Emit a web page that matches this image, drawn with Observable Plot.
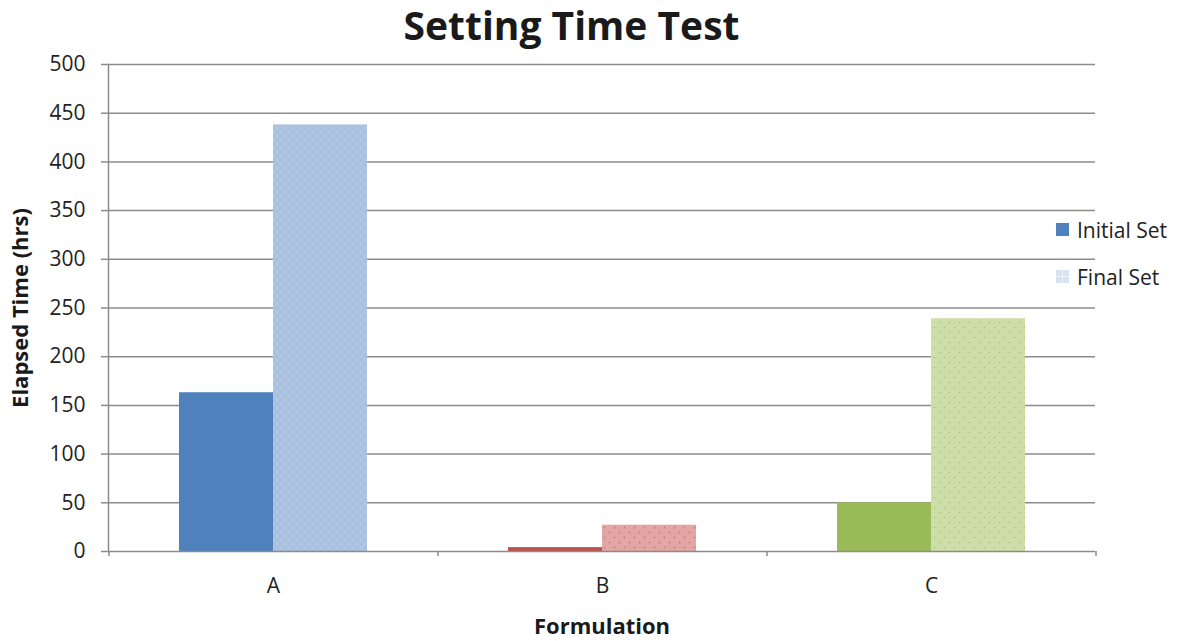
<!DOCTYPE html>
<html>
<head>
<meta charset="utf-8">
<script src="https://cdn.jsdelivr.net/npm/d3@7"></script>
<script src="https://cdn.jsdelivr.net/npm/@observablehq/plot@0.6"></script>
<style>
  html, body { margin: 0; padding: 0; background: #fff; }
  body { width: 1193px; height: 641px; position: relative; overflow: hidden; font-family: "Open Sans", sans-serif; }
  #title { height: 50px; width: 1193px; box-sizing: border-box; padding-right: 50px; text-align: center;
           font-size: 39px; font-weight: bold; color: #1a1a1a; line-height: 50px; }
  #legend { position: absolute; left: 1056px; top: 206px; font-size: 21px; color: #222; }
  .li { display: flex; align-items: center; height: 47px; }
  .sw { width: 13px; height: 13px; margin-right: 8px; }
</style>
</head>
<body>
<div id="title">Setting Time Test</div>
<div id="chart"></div>
<div id="legend">
  <div class="li"><div class="sw" style="background:#4F81BD"></div>Initial Set</div>
  <div class="li"><div class="sw" style="background:#D6E3F3; background-image: linear-gradient(90deg, transparent 45%, #F0F5FB 45%, #F0F5FB 55%, transparent 55%), linear-gradient(0deg, transparent 45%, #F0F5FB 45%, #F0F5FB 55%, transparent 55%);"></div>Final Set</div>
</div>
<script>
// ---- data ----
const categories = ["A", "B", "C"];
const initialSet = [163, 4, 50];
const finalSet = [438, 27, 239];
const yTicks = [0, 50, 100, 150, 200, 250, 300, 350, 400, 450, 500];

// ---- styles ----
const initialColor = {A: "#4F81BD", B: "#C0504D", C: "#9BBB59"};
const finalFill = {A: "url(#patA)", B: "url(#patB)", C: "url(#patC)"};

const rows = categories.map((c, i) => ({cat: c, initial: initialSet[i], final: finalSet[i]}));

const plot = Plot.plot({
  width: 1193,
  height: 591,
  marginLeft: 108,
  marginRight: 98,
  marginTop: 14,
  marginBottom: 90,
  style: {fontFamily: "Open Sans, sans-serif", fontSize: "21px", color: "#222", background: "#fff"},
  x: {domain: categories, paddingInner: 1 - 94 / 329, paddingOuter: (1 - 94 / 329) / 2, label: null},
  y: {domain: [0, 500], label: null},
  color: {type: "identity"},
  marks: [
    Plot.gridY(yTicks.filter(d => d > 0), {stroke: "#8c8c8c", strokeOpacity: 1, strokeWidth: 1.5}),
    Plot.barY(rows, {x: "cat", y: "initial", fill: d => initialColor[d.cat], dx: -47}),
    Plot.barY(rows, {x: "cat", y: "final", fill: d => finalFill[d.cat], dx: 47}),
    Plot.ruleY([0], {stroke: "#8c8c8c", strokeWidth: 1.5}),
    Plot.ruleX(categories, {x: d => d, y1: 0, y2: 0, dx: -164.5, insetBottom: -5, stroke: "#8c8c8c", strokeWidth: 1.5}),
    Plot.ruleX(categories.slice(-1), {x: d => d, y1: 0, y2: 0, dx: 164.5, insetBottom: -5, stroke: "#8c8c8c", strokeWidth: 1.5}),
    Plot.axisY({ticks: yTicks, tickSize: 7, tickPadding: 16, stroke: "#8c8c8c", strokeWidth: 1.5, strokeOpacity: 1, label: null, fontSize: 21}),
    Plot.frame({anchor: "left", stroke: "#8c8c8c", strokeWidth: 1.5}),
    Plot.axisX({tickSize: 0, tickPadding: 27, label: null, fontSize: 21}),
    Plot.text(["Elapsed Time (hrs)"], {frameAnchor: "left", dx: -88, rotate: -90, textAnchor: "middle", lineAnchor: "middle", fontWeight: "bold", fontSize: 22, fill: "#1a1a1a"}),
    Plot.text(["Formulation"], {frameAnchor: "bottom", dy: 75, textAnchor: "middle", lineAnchor: "middle", fontWeight: "bold", fontSize: 22, fill: "#1a1a1a"})
  ]
});

// pattern definitions for the "Final Set" bars
const ns = "http://www.w3.org/2000/svg";
const defs = document.createElementNS(ns, "defs");
defs.innerHTML = `
  <pattern id="patA" width="8" height="8" patternUnits="userSpaceOnUse">
    <rect width="8" height="8" fill="#A8C0DE"/>
    <rect width="4" height="4" fill="#AFC5E1"/>
    <rect x="4" y="4" width="4" height="4" fill="#AFC5E1"/>
  </pattern>
  <pattern id="patB" width="10" height="10" patternUnits="userSpaceOnUse">
    <rect width="10" height="10" fill="#E2A6A5"/>
    <circle cx="2.5" cy="2.5" r="0.9" fill="#D07C7A"/>
    <circle cx="7.5" cy="7.5" r="0.9" fill="#D07C7A"/>
  </pattern>
  <pattern id="patC" width="10" height="10" patternUnits="userSpaceOnUse">
    <rect width="10" height="10" fill="#CEDEA9"/>
    <circle cx="2.5" cy="2.5" r="0.8" fill="#A8C66E"/>
    <circle cx="7.5" cy="7.5" r="0.8" fill="#A8C66E"/>
  </pattern>`;
plot.insertBefore(defs, plot.firstChild);
document.getElementById("chart").appendChild(plot);
</script>
</body>
</html>
